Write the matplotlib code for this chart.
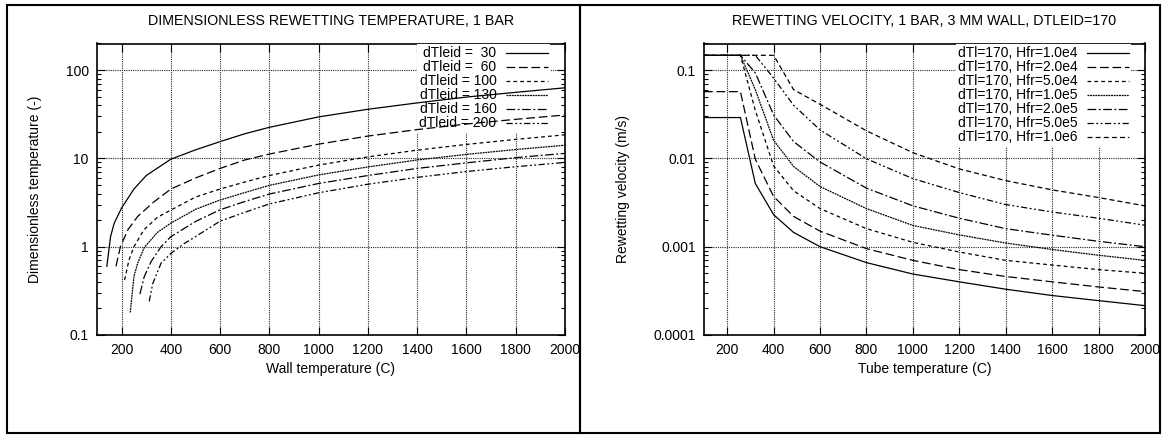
import matplotlib
matplotlib.use('Agg')
import matplotlib.pyplot as plt
from matplotlib.patches import Rectangle
from matplotlib.ticker import LogLocator, NullFormatter

plt.rcParams['font.family'] = ['Liberation Sans', 'DejaVu Sans']
plt.rcParams['font.size'] = 10

# left panel: dimensionless rewetting temperature vs wall temperature
dtleid_labels = ['dTleid =  30', 'dTleid =  60', 'dTleid = 100',
                 'dTleid = 130', 'dTleid = 160', 'dTleid = 200']

x_dt30 = [140, 155, 170, 200, 250, 300, 400, 500, 600, 700, 800, 1000, 1200, 1400, 1600, 1800, 2000]
y_dt30 = [0.6, 1.3, 1.85, 2.75, 4.5, 6.4, 9.8, 12.5, 15.5, 19.0, 22.5, 29.5, 36.0, 42.5, 49.5, 56.0, 63.0]

x_dt60 = [177, 195, 225, 265, 330, 400, 500, 600, 700, 800, 1000, 1200, 1400, 1600, 1800, 2000]
y_dt60 = [0.6, 1.0, 1.55, 2.2, 3.2, 4.5, 6.0, 7.7, 9.6, 11.2, 14.5, 17.9, 21.2, 24.5, 27.7, 31.0]

x_dt100 = [212, 230, 250, 290, 345, 400, 500, 600, 700, 800, 1000, 1200, 1400, 1600, 1800, 2000]
y_dt100 = [0.42, 0.71, 1.0, 1.55, 2.15, 2.6, 3.65, 4.5, 5.4, 6.4, 8.4, 10.4, 12.4, 14.4, 16.4, 18.5]

x_dt130 = [235, 250, 265, 292, 345, 400, 500, 600, 700, 800, 1000, 1200, 1400, 1600, 1800, 2000]
y_dt130 = [0.18, 0.46, 0.65, 0.98, 1.45, 1.85, 2.65, 3.38, 4.1, 4.95, 6.5, 8.0, 9.6, 11.1, 12.6, 14.1]

x_dt160 = [274, 292, 320, 360, 400, 500, 600, 700, 800, 1000, 1200, 1400, 1600, 1800, 2000]
y_dt160 = [0.29, 0.46, 0.68, 1.0, 1.3, 1.93, 2.62, 3.25, 3.95, 5.2, 6.4, 7.7, 8.9, 10.2, 11.4]

x_dt200 = [312, 326, 360, 400, 455, 500, 600, 700, 800, 1000, 1200, 1400, 1600, 1800, 2000]
y_dt200 = [0.24, 0.38, 0.65, 0.84, 1.09, 1.3, 1.95, 2.45, 3.05, 4.08, 5.1, 6.1, 7.1, 8.05, 9.0]

# right panel: rewetting velocity vs tube temperature
hfr_labels = ['dTl=170, Hfr=1.0e4', 'dTl=170, Hfr=2.0e4', 'dTl=170, Hfr=5.0e4',
              'dTl=170, Hfr=1.0e5', 'dTl=170, Hfr=2.0e5', 'dTl=170, Hfr=5.0e5',
              'dTl=170, Hfr=1.0e6']

x_tube = [100, 257, 321, 400, 486, 600, 800, 1000, 1200, 1400, 1600, 1800, 2000]
v_1e4 = [0.029, 0.029, 0.0052, 0.0023, 0.00145, 0.001, 0.00066, 0.00049, 0.0004, 0.00033, 0.00028, 0.000245, 0.000215]
v_2e4 = [0.057, 0.057, 0.0098, 0.0037, 0.0022, 0.0015, 0.00095, 0.0007, 0.00055, 0.00046, 0.0004, 0.00035, 0.00031]
v_5e4 = [0.147, 0.147, 0.035, 0.0082, 0.0043, 0.0027, 0.0016, 0.00112, 0.00087, 0.0007, 0.00062, 0.00055, 0.0005]
v_1e5 = [0.147, 0.147, 0.06, 0.016, 0.0081, 0.0048, 0.0027, 0.00174, 0.00136, 0.0011, 0.00093, 0.0008, 0.0007]
v_2e5 = [0.147, 0.147, 0.093, 0.031, 0.0155, 0.0091, 0.0046, 0.0029, 0.0021, 0.0016, 0.00135, 0.00115, 0.001]

x_5e5 = [100, 321, 400, 486, 600, 800, 1000, 1200, 1400, 1600, 1800, 2000]
v_5e5 = [0.147, 0.147, 0.081, 0.04, 0.021, 0.0099, 0.0059, 0.0041, 0.003, 0.00247, 0.0021, 0.00175]

x_1e6 = [100, 400, 486, 600, 800, 1000, 1200, 1400, 1600, 1800, 2000]
v_1e6 = [0.147, 0.147, 0.06, 0.041, 0.0205, 0.0116, 0.0076, 0.0056, 0.0044, 0.0036, 0.0029]

styles = ['-', (0, (7, 3)), (0, (3, 2.5)), (0, (1.5, 0.6)),
          (0, (7, 2, 1.5, 2)), (0, (5, 2, 1.5, 2, 1.5, 2)), (0, (4, 2.5))]

fig = plt.figure(figsize=(11.63, 4.38), dpi=100)
ax1 = fig.add_axes([97 / 1163, 1 - 335 / 438, 468 / 1163, 291.5 / 438])
ax2 = fig.add_axes([704 / 1163, 1 - 335 / 438, 441 / 1163, 291.5 / 438])

# panel borders
fig.add_artist(Rectangle((7 / 1163, 5 / 438), 573 / 1163, 428 / 438, transform=fig.transFigure,
                         fill=False, lw=1.5, ec='black'))
fig.add_artist(Rectangle((580 / 1163, 5 / 438), 580 / 1163, 428 / 438, transform=fig.transFigure,
                         fill=False, lw=1.5, ec='black'))

left_x = [x_dt30, x_dt60, x_dt100, x_dt130, x_dt160, x_dt200]
left_y = [y_dt30, y_dt60, y_dt100, y_dt130, y_dt160, y_dt200]
for xs, ys, lab, ls in zip(left_x, left_y, dtleid_labels, styles):
    ax1.plot(xs, ys, color='black', lw=0.9, linestyle=ls, label=lab, zorder=6)

right_x = [x_tube] * 5 + [x_5e5, x_1e6]
right_y = [v_1e4, v_2e4, v_5e4, v_1e5, v_2e5, v_5e5, v_1e6]
for xs, ys, lab, ls in zip(right_x, right_y, hfr_labels, styles):
    ax2.plot(xs, ys, color='black', lw=0.9, linestyle=ls, label=lab, zorder=6)

for ax in (ax1, ax2):
    ax.set_yscale('log')
    ax.set_xlim(100, 2000)
    ax.set_xticks(range(200, 2001, 200))
    ax.grid(True, which='major', color='0.15', linestyle=(0, (1, 1)), linewidth=0.8)
    ax.set_axisbelow(True)
    ax.yaxis.set_minor_locator(LogLocator(base=10, subs=range(2, 10)))
    ax.yaxis.set_minor_formatter(NullFormatter())
    ax.tick_params(which='both', direction='in', top=True, right=True, width=0.8, pad=6)
    ax.tick_params(which='major', length=6)
    ax.tick_params(which='minor', length=3)
    for s in ax.spines.values():
        s.set_linewidth(1.2)
    ax.legend(loc='upper right', bbox_to_anchor=(0.968, 0.997), markerfirst=False,
              frameon=True, fancybox=False, facecolor='white', edgecolor='none',
              framealpha=1, labelspacing=0, handlelength=3.0, handletextpad=0.7,
              borderpad=0.15, borderaxespad=0)

ax1.set_ylim(0.1, 200)
ax1.set_yticks([0.1, 1, 10, 100])
ax1.set_yticklabels(['0.1', '1', '10', '100'])
ax1.set_title('DIMENSIONLESS REWETTING TEMPERATURE, 1 BAR', fontsize=10.3, pad=13)
ax1.set_xlabel('Wall temperature (C)', labelpad=3)
ax1.set_ylabel('Dimensionless temperature (-)', labelpad=17)

ax2.set_ylim(0.0001, 0.2)
ax2.set_yticks([0.0001, 0.001, 0.01, 0.1])
ax2.set_yticklabels(['0.0001', '0.001', '0.01', '0.1'])
ax2.set_title('REWETTING VELOCITY, 1 BAR, 3 MM WALL, DTLEID=170', fontsize=10.3, pad=13)
ax2.set_xlabel('Tube temperature (C)', labelpad=3)
ax2.set_ylabel('Rewetting velocity (m/s)', labelpad=17)

fig.savefig('out.png', dpi=100)
